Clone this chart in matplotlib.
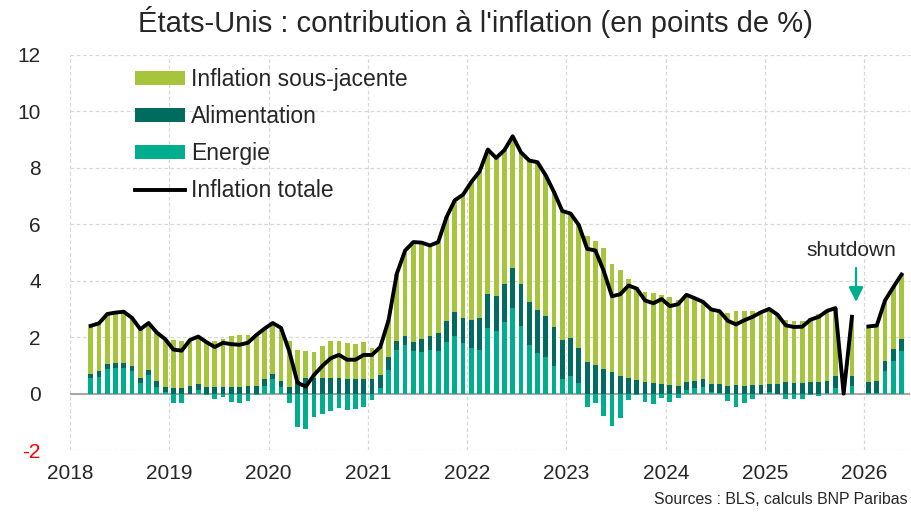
import numpy as np
import pandas as pd
import matplotlib
matplotlib.use("Agg")
import matplotlib.pyplot as plt
from matplotlib.patches import Patch
from matplotlib.lines import Line2D

nan = np.nan

# ---------------- data (contributions, points de %) ----------------
months = pd.period_range("2018-03", "2026-05", freq="M")

energy = [
    0.55, 0.60, 0.88, 0.92, 0.92, 0.79, 0.38, 0.67, 0.24, 0.05,
    -0.33, -0.35, -0.02, 0.12, -0.04, -0.21, -0.13, -0.30, -0.33, -0.27, -0.05, 0.28,
    0.50, 0.22, -0.35, -1.18, -1.25, -0.83, -0.71, -0.63, -0.51, -0.59, -0.55, -0.47,
    -0.24, 0.18, 0.83, 1.53, 1.73, 1.50, 1.46, 1.53, 1.51, 1.83, 2.03, 1.79,
    1.63, 1.56, 2.34, 2.22, 2.53, 3.04, 2.41, 1.73, 1.45, 1.30, 0.97, 0.53,
    0.63, 0.38, -0.46, -0.35, -0.80, -1.16, -0.86, -0.24, -0.04, -0.31, -0.38, -0.14,
    -0.31, -0.14, 0.14, 0.18, 0.24, 0.06, 0.03, -0.26, -0.47, -0.33, -0.21, -0.02,
    0.04, -0.01, -0.18, -0.21, -0.21, -0.06, -0.09, 0.02, 0.18, nan, 0.28, nan,
    0.02, 0.03, 0.81, 1.17, 1.52,
]

food = [
    0.16, 0.19, 0.17, 0.18, 0.18, 0.17, 0.16, 0.15, 0.20, 0.17,
    0.21, 0.21, 0.27, 0.23, 0.25, 0.24, 0.24, 0.24, 0.24, 0.28, 0.26, 0.22,
    0.21, 0.22, 0.24, 0.45, 0.55, 0.55, 0.55, 0.55, 0.54, 0.53, 0.52, 0.53,
    0.53, 0.47, 0.47, 0.33, 0.30, 0.33, 0.46, 0.50, 0.65, 0.73, 0.86, 0.88,
    0.99, 1.11, 1.18, 1.23, 1.34, 1.41, 1.46, 1.51, 1.50, 1.44, 1.39, 1.38,
    1.34, 1.24, 1.12, 1.00, 0.88, 0.76, 0.63, 0.55, 0.47, 0.41, 0.36, 0.34,
    0.32, 0.27, 0.27, 0.27, 0.26, 0.27, 0.30, 0.26, 0.29, 0.27, 0.29, 0.32,
    0.31, 0.33, 0.40, 0.38, 0.38, 0.40, 0.40, 0.44, 0.43, nan, 0.36, nan,
    0.38, 0.41, 0.36, 0.41, 0.42,
]

core = [
    1.69, 1.70, 1.77, 1.77, 1.80, 1.72, 1.74, 1.68, 1.72, 1.71,
    1.68, 1.66, 1.65, 1.67, 1.61, 1.62, 1.69, 1.81, 1.82, 1.79, 1.86, 1.80,
    1.79, 1.89, 1.61, 1.11, 0.95, 0.94, 1.14, 1.33, 1.34, 1.26, 1.23, 1.31,
    1.08, 1.00, 1.30, 2.39, 3.04, 3.54, 3.43, 3.22, 3.21, 3.69, 3.96, 4.38,
    4.88, 5.20, 5.13, 4.90, 4.76, 4.67, 4.68, 5.02, 5.25, 4.99, 4.78, 4.56,
    4.41, 4.35, 4.47, 4.42, 4.27, 3.85, 3.75, 3.52, 3.29, 3.20, 3.22, 3.15,
    3.09, 3.04, 3.09, 2.93, 2.75, 2.65, 2.59, 2.58, 2.63, 2.66, 2.64, 2.58,
    2.65, 2.48, 2.20, 2.19, 2.20, 2.28, 2.41, 2.47, 2.42, nan, 2.08, nan,
    1.98, 1.97, 2.13, 2.19, 2.28,
]

total = [
    2.40, 2.49, 2.82, 2.87, 2.90, 2.68, 2.28, 2.50, 2.16, 1.93,
    1.56, 1.52, 1.90, 2.02, 1.82, 1.65, 1.80, 1.75, 1.73, 1.80, 2.07, 2.30,
    2.50, 2.33, 1.50, 0.38, 0.25, 0.66, 0.98, 1.25, 1.37, 1.20, 1.20, 1.37,
    1.37, 1.65, 2.60, 4.25, 5.07, 5.37, 5.35, 5.25, 5.37, 6.25, 6.85, 7.05,
    7.50, 7.87, 8.65, 8.35, 8.63, 9.12, 8.55, 8.26, 8.20, 7.73, 7.14, 6.47,
    6.38, 5.97, 5.13, 5.07, 4.35, 3.45, 3.52, 3.83, 3.72, 3.30, 3.20, 3.35,
    3.10, 3.17, 3.50, 3.38, 3.25, 2.98, 2.92, 2.58, 2.45, 2.60, 2.72, 2.88,
    3.00, 2.80, 2.42, 2.36, 2.37, 2.62, 2.72, 2.93, 3.03, 0.00, 2.72, nan,
    2.38, 2.41, 3.30, 3.77, 4.22,
]

years = list(range(2018, 2027))
yticks = list(range(-2, 13, 2))
labels = ["Inflation sous-jacente", "Alimentation", "Energie", "Inflation totale"]
title = "États-Unis : contribution à l'inflation (en points de %)"
source = "Sources : BLS, calculs BNP Paribas"

# ---------------- style ----------------
C_CORE = "#A6C43C"
C_FOOD = "#006B5E"
C_ENER = "#00AE8E"
TXT = "#262626"

plt.rcParams["font.family"] = ["Liberation Sans", "DejaVu Sans"]

fig = plt.figure(figsize=(9.12, 5.14), dpi=100)
ax = fig.add_axes([70 / 912, 1 - 450 / 514, 840 / 912, 395 / 514])

x = np.array([m.year + (m.month - 0.5) / 12 for m in months])
E = np.array(energy, dtype=float)
F = np.array(food, dtype=float)
C = np.array(core, dtype=float)
T = np.array(total, dtype=float)

pos_e = np.where(E > 0, E, 0.0)
w = 0.048
ax.bar(x, E, width=w, color=C_ENER, zorder=3, linewidth=0)
ax.bar(x, F, width=w, bottom=pos_e, color=C_FOOD, zorder=3, linewidth=0)
ax.bar(x, C, width=w, bottom=pos_e + F, color=C_CORE, zorder=3, linewidth=0)
ax.plot(x, T, color="black", lw=2.8, zorder=5, solid_joinstyle="round")

ax.axhline(0, color="#a6a6a6", lw=1.4, zorder=2)

ax.set_xlim(2018, 2026.46)
ax.set_ylim(-2, 12)
ax.set_xticks(years)
ax.set_xticklabels([str(y) for y in years])
ax.set_yticks(yticks)
ax.set_yticklabels([str(v) for v in yticks])
ax.grid(True, ls=(0, (3, 2)), color="#d8d8d8", lw=0.9, zorder=0)
ax.set_axisbelow(True)
for s in ax.spines.values():
    s.set_visible(False)
ax.tick_params(axis="both", length=0, labelsize=15, colors=TXT)
ax.tick_params(axis="y", pad=21)
ax.tick_params(axis="x", pad=10)
for lab in ax.get_yticklabels():
    if lab.get_text() == "-2":
        lab.set_color("#ff0000")

handles = [
    Patch(facecolor=C_CORE, edgecolor="none"),
    Patch(facecolor=C_FOOD, edgecolor="none"),
    Patch(facecolor=C_ENER, edgecolor="none"),
    Line2D([], [], color="black", lw=2.8),
]
leg = ax.legend(handles, labels, loc="upper left", bbox_to_anchor=(0.0774, 0.968),
                frameon=False, fontsize=16.5, borderpad=0, borderaxespad=0,
                handlelength=2.2, handleheight=0.56, handletextpad=0.25,
                labelspacing=0.62)
for t in leg.get_texts():
    t.set_color(TXT)

# shutdown annotation (between the two missing months)
i_oct = list(months).index(pd.Period("2025-10", "M"))
xs = (x[i_oct + 1] + x[i_oct + 2]) / 2
ax.annotate("", xy=(xs, 3.25), xytext=(xs, 4.45),
            arrowprops=dict(arrowstyle="-|>", color=C_ENER, lw=1.6,
                            mutation_scale=22, shrinkA=0, shrinkB=0), zorder=6)
ax.text(xs - 0.05, 5.08, "shutdown", ha="center", va="center", fontsize=15, color=TXT)

fig.text(475 / 912, 1 - 22 / 514, title, ha="center", va="center", fontsize=21, color=TXT)
fig.text(908 / 912, 1 - 500 / 514, source, ha="right", va="center", fontsize=11.4, color=TXT)

fig.savefig("out.png", dpi=100)
